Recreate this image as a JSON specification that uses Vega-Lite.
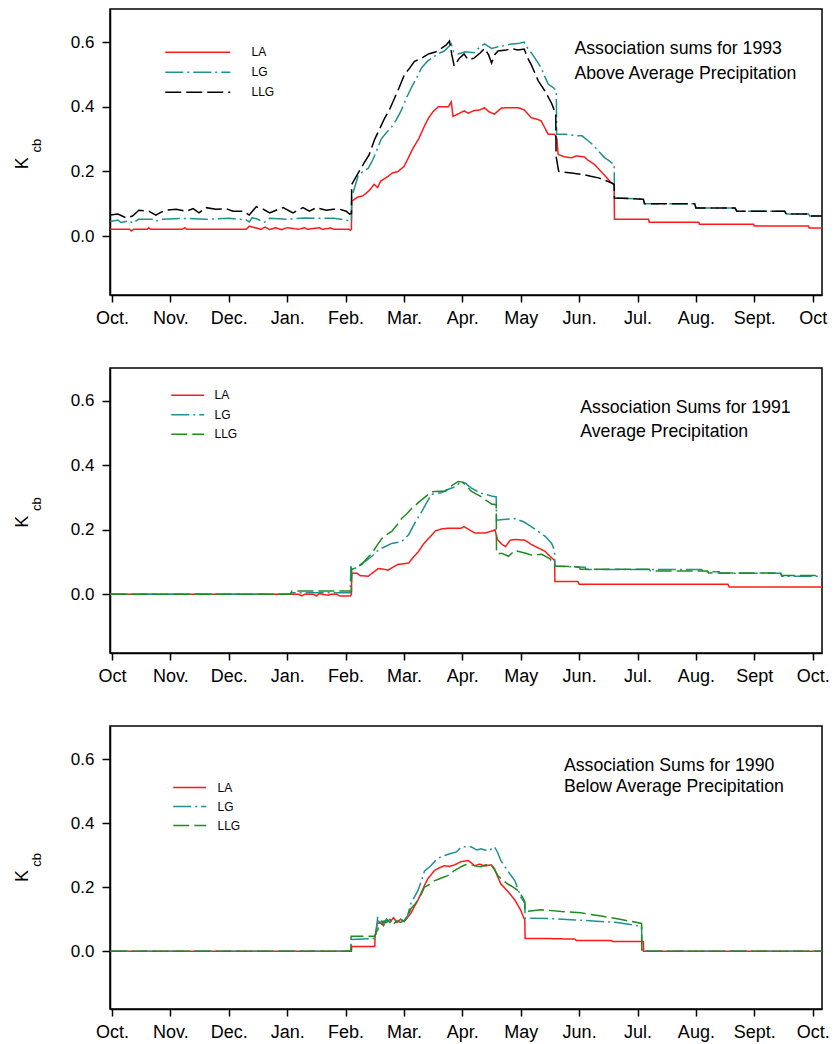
{
  "$schema": "https://vega.github.io/schema/vega-lite/v6.json",
  "padding": {"left": 13, "top": 8, "right": 4, "bottom": 4},
  "background": "white",
  "spacing": 39,
  "config": {
    "font": "Liberation Sans",
    "view": {"stroke": "#000000", "strokeWidth": 1.5},
    "axis": {"grid": false, "domainColor": "#000000", "domainWidth": 1.5, "tickColor": "#000000", "tickWidth": 1.5, "labelColor": "#000000", "labelFont": "Liberation Sans"},
    "legend": {"labelFont": "Liberation Sans"}
  },
  "resolve": {
    "scale": {"color": "independent", "strokeDash": "independent", "x": "independent", "y": "independent"},
    "legend": {"color": "independent", "strokeDash": "independent"}
  },
  "datasets": {
    "d93": [
      {"s":"LA","m":-0.03,"v":0.021},{"s":"LA","m":0.3,"v":0.021},{"s":"LA","m":0.33,"v":0.016},{"s":"LA","m":0.37,"v":0.021},{"s":"LA","m":0.6,"v":0.021},{"s":"LA","m":0.63,"v":0.026},{"s":"LA","m":0.66,"v":0.021},{"s":"LA","m":1.2,"v":0.021},{"s":"LA","m":1.25,"v":0.026},{"s":"LA","m":1.28,"v":0.021},{"s":"LA","m":2.3,"v":0.021},{"s":"LA","m":2.35,"v":0.031},{"s":"LA","m":2.45,"v":0.026},{"s":"LA","m":2.55,"v":0.021},{"s":"LA","m":2.62,"v":0.028},{"s":"LA","m":2.7,"v":0.02},{"s":"LA","m":2.8,"v":0.026},{"s":"LA","m":2.9,"v":0.02},{"s":"LA","m":3.0,"v":0.026},{"s":"LA","m":3.2,"v":0.021},{"s":"LA","m":3.3,"v":0.026},{"s":"LA","m":3.35,"v":0.021},{"s":"LA","m":3.55,"v":0.026},{"s":"LA","m":3.6,"v":0.021},{"s":"LA","m":3.75,"v":0.025},{"s":"LA","m":3.8,"v":0.021},{"s":"LA","m":4.06,"v":0.021},{"s":"LA","m":4.08,"v":0.018},{"s":"LA","m":4.1,"v":0.021},{"s":"LA","m":4.105,"v":0.108},{"s":"LA","m":4.2,"v":0.12},{"s":"LA","m":4.3,"v":0.125},{"s":"LA","m":4.4,"v":0.14},{"s":"LA","m":4.49,"v":0.16},{"s":"LA","m":4.55,"v":0.15},{"s":"LA","m":4.6,"v":0.17},{"s":"LA","m":4.73,"v":0.185},{"s":"LA","m":4.8,"v":0.195},{"s":"LA","m":4.9,"v":0.2},{"s":"LA","m":5.0,"v":0.215},{"s":"LA","m":5.07,"v":0.24},{"s":"LA","m":5.15,"v":0.27},{"s":"LA","m":5.25,"v":0.3},{"s":"LA","m":5.35,"v":0.34},{"s":"LA","m":5.42,"v":0.365},{"s":"LA","m":5.5,"v":0.385},{"s":"LA","m":5.59,"v":0.4},{"s":"LA","m":5.76,"v":0.4},{"s":"LA","m":5.81,"v":0.415},{"s":"LA","m":5.84,"v":0.37},{"s":"LA","m":5.9,"v":0.375},{"s":"LA","m":6.03,"v":0.387},{"s":"LA","m":6.1,"v":0.38},{"s":"LA","m":6.2,"v":0.388},{"s":"LA","m":6.3,"v":0.39},{"s":"LA","m":6.38,"v":0.397},{"s":"LA","m":6.45,"v":0.385},{"s":"LA","m":6.55,"v":0.377},{"s":"LA","m":6.67,"v":0.396},{"s":"LA","m":6.8,"v":0.397},{"s":"LA","m":6.96,"v":0.397},{"s":"LA","m":7.06,"v":0.39},{"s":"LA","m":7.18,"v":0.366},{"s":"LA","m":7.3,"v":0.36},{"s":"LA","m":7.35,"v":0.356},{"s":"LA","m":7.47,"v":0.315},{"s":"LA","m":7.58,"v":0.315},{"s":"LA","m":7.62,"v":0.3},{"s":"LA","m":7.64,"v":0.253},{"s":"LA","m":7.75,"v":0.245},{"s":"LA","m":7.87,"v":0.242},{"s":"LA","m":7.95,"v":0.248},{"s":"LA","m":8.09,"v":0.245},{"s":"LA","m":8.15,"v":0.235},{"s":"LA","m":8.26,"v":0.222},{"s":"LA","m":8.4,"v":0.195},{"s":"LA","m":8.55,"v":0.165},{"s":"LA","m":8.6,"v":0.16},{"s":"LA","m":8.605,"v":0.052},{"s":"LA","m":9.19,"v":0.052},{"s":"LA","m":9.2,"v":0.043},{"s":"LA","m":10.05,"v":0.043},{"s":"LA","m":10.06,"v":0.037},{"s":"LA","m":10.99,"v":0.037},{"s":"LA","m":11.0,"v":0.031},{"s":"LA","m":11.93,"v":0.031},{"s":"LA","m":11.94,"v":0.025},{"s":"LA","m":12.16,"v":0.025},
      {"s":"LG","m":-0.03,"v":0.045},{"s":"LG","m":0.1,"v":0.05},{"s":"LG","m":0.15,"v":0.042},{"s":"LG","m":0.3,"v":0.048},{"s":"LG","m":0.35,"v":0.04},{"s":"LG","m":0.45,"v":0.052},{"s":"LG","m":0.7,"v":0.052},{"s":"LG","m":0.75,"v":0.046},{"s":"LG","m":0.85,"v":0.052},{"s":"LG","m":1.3,"v":0.055},{"s":"LG","m":1.6,"v":0.052},{"s":"LG","m":2.0,"v":0.055},{"s":"LG","m":2.3,"v":0.05},{"s":"LG","m":2.35,"v":0.044},{"s":"LG","m":2.4,"v":0.057},{"s":"LG","m":2.5,"v":0.052},{"s":"LG","m":2.6,"v":0.042},{"s":"LG","m":2.7,"v":0.055},{"s":"LG","m":3.0,"v":0.052},{"s":"LG","m":3.3,"v":0.056},{"s":"LG","m":3.5,"v":0.055},{"s":"LG","m":3.8,"v":0.055},{"s":"LG","m":4.0,"v":0.05},{"s":"LG","m":4.08,"v":0.046},{"s":"LG","m":4.1,"v":0.046},{"s":"LG","m":4.105,"v":0.12},{"s":"LG","m":4.22,"v":0.19},{"s":"LG","m":4.3,"v":0.2},{"s":"LG","m":4.39,"v":0.21},{"s":"LG","m":4.45,"v":0.23},{"s":"LG","m":4.5,"v":0.25},{"s":"LG","m":4.61,"v":0.3},{"s":"LG","m":4.7,"v":0.32},{"s":"LG","m":4.78,"v":0.335},{"s":"LG","m":4.87,"v":0.36},{"s":"LG","m":4.95,"v":0.387},{"s":"LG","m":5.05,"v":0.43},{"s":"LG","m":5.13,"v":0.46},{"s":"LG","m":5.22,"v":0.49},{"s":"LG","m":5.3,"v":0.52},{"s":"LG","m":5.4,"v":0.54},{"s":"LG","m":5.47,"v":0.55},{"s":"LG","m":5.6,"v":0.565},{"s":"LG","m":5.69,"v":0.572},{"s":"LG","m":5.81,"v":0.594},{"s":"LG","m":5.85,"v":0.57},{"s":"LG","m":5.93,"v":0.563},{"s":"LG","m":6.05,"v":0.57},{"s":"LG","m":6.2,"v":0.567},{"s":"LG","m":6.3,"v":0.585},{"s":"LG","m":6.38,"v":0.594},{"s":"LG","m":6.5,"v":0.58},{"s":"LG","m":6.61,"v":0.585},{"s":"LG","m":6.75,"v":0.59},{"s":"LG","m":6.84,"v":0.594},{"s":"LG","m":6.95,"v":0.595},{"s":"LG","m":7.06,"v":0.6},{"s":"LG","m":7.12,"v":0.58},{"s":"LG","m":7.18,"v":0.567},{"s":"LG","m":7.28,"v":0.54},{"s":"LG","m":7.35,"v":0.52},{"s":"LG","m":7.42,"v":0.49},{"s":"LG","m":7.47,"v":0.47},{"s":"LG","m":7.55,"v":0.46},{"s":"LG","m":7.61,"v":0.45},{"s":"LG","m":7.615,"v":0.315},{"s":"LG","m":7.75,"v":0.315},{"s":"LG","m":7.98,"v":0.31},{"s":"LG","m":8.05,"v":0.31},{"s":"LG","m":8.16,"v":0.294},{"s":"LG","m":8.25,"v":0.28},{"s":"LG","m":8.33,"v":0.263},{"s":"LG","m":8.44,"v":0.242},{"s":"LG","m":8.5,"v":0.235},{"s":"LG","m":8.59,"v":0.222},{"s":"LG","m":8.6,"v":0.222},{"s":"LG","m":8.605,"v":0.118},{"s":"LG","m":9.1,"v":0.114},{"s":"LG","m":9.12,"v":0.1},{"s":"LG","m":9.98,"v":0.1},{"s":"LG","m":10.0,"v":0.087},{"s":"LG","m":10.67,"v":0.087},{"s":"LG","m":10.7,"v":0.077},{"s":"LG","m":11.52,"v":0.077},{"s":"LG","m":11.55,"v":0.068},{"s":"LG","m":11.93,"v":0.068},{"s":"LG","m":11.95,"v":0.062},{"s":"LG","m":12.16,"v":0.062},
      {"s":"LLG","m":-0.03,"v":0.065},{"s":"LLG","m":0.1,"v":0.068},{"s":"LLG","m":0.2,"v":0.06},{"s":"LLG","m":0.24,"v":0.056},{"s":"LLG","m":0.35,"v":0.062},{"s":"LLG","m":0.46,"v":0.08},{"s":"LLG","m":0.63,"v":0.077},{"s":"LLG","m":0.75,"v":0.065},{"s":"LLG","m":0.85,"v":0.075},{"s":"LLG","m":0.93,"v":0.08},{"s":"LLG","m":1.1,"v":0.083},{"s":"LLG","m":1.27,"v":0.077},{"s":"LLG","m":1.39,"v":0.085},{"s":"LLG","m":1.49,"v":0.072},{"s":"LLG","m":1.61,"v":0.088},{"s":"LLG","m":1.78,"v":0.083},{"s":"LLG","m":1.95,"v":0.085},{"s":"LLG","m":2.07,"v":0.077},{"s":"LLG","m":2.25,"v":0.077},{"s":"LLG","m":2.35,"v":0.065},{"s":"LLG","m":2.47,"v":0.091},{"s":"LLG","m":2.59,"v":0.083},{"s":"LLG","m":2.7,"v":0.072},{"s":"LLG","m":2.81,"v":0.08},{"s":"LLG","m":2.93,"v":0.088},{"s":"LLG","m":3.1,"v":0.072},{"s":"LLG","m":3.27,"v":0.088},{"s":"LLG","m":3.38,"v":0.077},{"s":"LLG","m":3.5,"v":0.088},{"s":"LLG","m":3.67,"v":0.08},{"s":"LLG","m":3.79,"v":0.083},{"s":"LLG","m":3.9,"v":0.083},{"s":"LLG","m":4.01,"v":0.077},{"s":"LLG","m":4.07,"v":0.068},{"s":"LLG","m":4.1,"v":0.07},{"s":"LLG","m":4.105,"v":0.16},{"s":"LLG","m":4.2,"v":0.19},{"s":"LLG","m":4.33,"v":0.23},{"s":"LLG","m":4.4,"v":0.25},{"s":"LLG","m":4.5,"v":0.3},{"s":"LLG","m":4.58,"v":0.33},{"s":"LLG","m":4.67,"v":0.365},{"s":"LLG","m":4.75,"v":0.39},{"s":"LLG","m":4.84,"v":0.427},{"s":"LLG","m":4.92,"v":0.46},{"s":"LLG","m":5.01,"v":0.5},{"s":"LLG","m":5.1,"v":0.52},{"s":"LLG","m":5.18,"v":0.54},{"s":"LLG","m":5.3,"v":0.55},{"s":"LLG","m":5.42,"v":0.563},{"s":"LLG","m":5.55,"v":0.57},{"s":"LLG","m":5.64,"v":0.58},{"s":"LLG","m":5.72,"v":0.59},{"s":"LLG","m":5.78,"v":0.603},{"s":"LLG","m":5.82,"v":0.56},{"s":"LLG","m":5.86,"v":0.526},{"s":"LLG","m":5.95,"v":0.55},{"s":"LLG","m":6.03,"v":0.563},{"s":"LLG","m":6.1,"v":0.545},{"s":"LLG","m":6.2,"v":0.55},{"s":"LLG","m":6.3,"v":0.565},{"s":"LLG","m":6.38,"v":0.58},{"s":"LLG","m":6.45,"v":0.56},{"s":"LLG","m":6.5,"v":0.535},{"s":"LLG","m":6.55,"v":0.56},{"s":"LLG","m":6.61,"v":0.572},{"s":"LLG","m":6.75,"v":0.575},{"s":"LLG","m":6.84,"v":0.58},{"s":"LLG","m":6.95,"v":0.575},{"s":"LLG","m":7.06,"v":0.578},{"s":"LLG","m":7.12,"v":0.55},{"s":"LLG","m":7.18,"v":0.53},{"s":"LLG","m":7.3,"v":0.48},{"s":"LLG","m":7.41,"v":0.45},{"s":"LLG","m":7.53,"v":0.41},{"s":"LLG","m":7.6,"v":0.377},{"s":"LLG","m":7.605,"v":0.247},{"s":"LLG","m":7.65,"v":0.2},{"s":"LLG","m":7.87,"v":0.195},{"s":"LLG","m":8.09,"v":0.19},{"s":"LLG","m":8.2,"v":0.185},{"s":"LLG","m":8.33,"v":0.18},{"s":"LLG","m":8.45,"v":0.172},{"s":"LLG","m":8.55,"v":0.165},{"s":"LLG","m":8.6,"v":0.16},{"s":"LLG","m":8.605,"v":0.118},{"s":"LLG","m":9.1,"v":0.114},{"s":"LLG","m":9.12,"v":0.1},{"s":"LLG","m":9.98,"v":0.1},{"s":"LLG","m":10.0,"v":0.087},{"s":"LLG","m":10.67,"v":0.087},{"s":"LLG","m":10.7,"v":0.077},{"s":"LLG","m":11.52,"v":0.077},{"s":"LLG","m":11.55,"v":0.068},{"s":"LLG","m":11.93,"v":0.068},{"s":"LLG","m":11.95,"v":0.062},{"s":"LLG","m":12.16,"v":0.062}
    ],
    "d91": [
      {"s":"LA","m":-0.03,"v":0},{"s":"LA","m":3.2,"v":0},{"s":"LA","m":3.25,"v":-0.005},{"s":"LA","m":3.3,"v":0},{"s":"LA","m":3.45,"v":0},{"s":"LA","m":3.5,"v":-0.005},{"s":"LA","m":3.55,"v":0.002},{"s":"LA","m":3.7,"v":-0.003},{"s":"LA","m":3.75,"v":0},{"s":"LA","m":3.85,"v":0},{"s":"LA","m":3.9,"v":-0.005},{"s":"LA","m":4.08,"v":-0.005},{"s":"LA","m":4.1,"v":0},{"s":"LA","m":4.105,"v":0.065},{"s":"LA","m":4.2,"v":0.065},{"s":"LA","m":4.25,"v":0.058},{"s":"LA","m":4.39,"v":0.056},{"s":"LA","m":4.45,"v":0.065},{"s":"LA","m":4.56,"v":0.08},{"s":"LA","m":4.65,"v":0.078},{"s":"LA","m":4.73,"v":0.075},{"s":"LA","m":4.82,"v":0.085},{"s":"LA","m":4.9,"v":0.093},{"s":"LA","m":5.0,"v":0.095},{"s":"LA","m":5.08,"v":0.097},{"s":"LA","m":5.16,"v":0.115},{"s":"LA","m":5.25,"v":0.133},{"s":"LA","m":5.33,"v":0.155},{"s":"LA","m":5.42,"v":0.173},{"s":"LA","m":5.54,"v":0.197},{"s":"LA","m":5.65,"v":0.203},{"s":"LA","m":5.76,"v":0.205},{"s":"LA","m":5.98,"v":0.205},{"s":"LA","m":6.03,"v":0.21},{"s":"LA","m":6.12,"v":0.2},{"s":"LA","m":6.22,"v":0.19},{"s":"LA","m":6.39,"v":0.19},{"s":"LA","m":6.5,"v":0.196},{"s":"LA","m":6.56,"v":0.2},{"s":"LA","m":6.6,"v":0.17},{"s":"LA","m":6.68,"v":0.155},{"s":"LA","m":6.74,"v":0.148},{"s":"LA","m":6.82,"v":0.168},{"s":"LA","m":6.9,"v":0.17},{"s":"LA","m":7.07,"v":0.168},{"s":"LA","m":7.18,"v":0.155},{"s":"LA","m":7.42,"v":0.133},{"s":"LA","m":7.5,"v":0.118},{"s":"LA","m":7.58,"v":0.105},{"s":"LA","m":7.585,"v":0.04},{"s":"LA","m":7.98,"v":0.04},{"s":"LA","m":8.0,"v":0.031},{"s":"LA","m":10.55,"v":0.031},{"s":"LA","m":10.57,"v":0.023},{"s":"LA","m":12.16,"v":0.023},
      {"s":"LG","m":-0.03,"v":0},{"s":"LG","m":3.05,"v":0},{"s":"LG","m":3.08,"v":0.005},{"s":"LG","m":4.08,"v":0.005},{"s":"LG","m":4.09,"v":0.087},{"s":"LG","m":4.11,"v":0.075},{"s":"LG","m":4.2,"v":0.085},{"s":"LG","m":4.28,"v":0.096},{"s":"LG","m":4.36,"v":0.105},{"s":"LG","m":4.45,"v":0.118},{"s":"LG","m":4.55,"v":0.135},{"s":"LG","m":4.62,"v":0.143},{"s":"LG","m":4.7,"v":0.15},{"s":"LG","m":4.79,"v":0.158},{"s":"LG","m":4.96,"v":0.163},{"s":"LG","m":5.08,"v":0.185},{"s":"LG","m":5.2,"v":0.226},{"s":"LG","m":5.3,"v":0.255},{"s":"LG","m":5.37,"v":0.278},{"s":"LG","m":5.47,"v":0.31},{"s":"LG","m":5.64,"v":0.315},{"s":"LG","m":5.75,"v":0.325},{"s":"LG","m":5.88,"v":0.334},{"s":"LG","m":5.98,"v":0.35},{"s":"LG","m":6.05,"v":0.345},{"s":"LG","m":6.15,"v":0.33},{"s":"LG","m":6.3,"v":0.315},{"s":"LG","m":6.39,"v":0.31},{"s":"LG","m":6.5,"v":0.305},{"s":"LG","m":6.58,"v":0.302},{"s":"LG","m":6.585,"v":0.23},{"s":"LG","m":6.7,"v":0.232},{"s":"LG","m":6.9,"v":0.235},{"s":"LG","m":7.05,"v":0.225},{"s":"LG","m":7.18,"v":0.21},{"s":"LG","m":7.3,"v":0.195},{"s":"LG","m":7.42,"v":0.18},{"s":"LG","m":7.53,"v":0.158},{"s":"LG","m":7.58,"v":0.135},{"s":"LG","m":7.585,"v":0.087},{"s":"LG","m":8.1,"v":0.084},{"s":"LG","m":8.12,"v":0.077},{"s":"LG","m":10.1,"v":0.077},{"s":"LG","m":10.12,"v":0.07},{"s":"LG","m":10.4,"v":0.07},{"s":"LG","m":10.42,"v":0.065},{"s":"LG","m":11.45,"v":0.065},{"s":"LG","m":11.47,"v":0.056},{"s":"LG","m":12.16,"v":0.056},
      {"s":"LLG","m":-0.03,"v":0},{"s":"LLG","m":3.05,"v":0},{"s":"LLG","m":3.08,"v":0.01},{"s":"LLG","m":4.1,"v":0.01},{"s":"LLG","m":4.105,"v":0.077},{"s":"LLG","m":4.2,"v":0.085},{"s":"LLG","m":4.28,"v":0.093},{"s":"LLG","m":4.36,"v":0.11},{"s":"LLG","m":4.45,"v":0.127},{"s":"LLG","m":4.55,"v":0.155},{"s":"LLG","m":4.62,"v":0.173},{"s":"LLG","m":4.7,"v":0.185},{"s":"LLG","m":4.79,"v":0.195},{"s":"LLG","m":4.88,"v":0.215},{"s":"LLG","m":4.96,"v":0.235},{"s":"LLG","m":5.05,"v":0.25},{"s":"LLG","m":5.13,"v":0.266},{"s":"LLG","m":5.25,"v":0.285},{"s":"LLG","m":5.37,"v":0.303},{"s":"LLG","m":5.47,"v":0.318},{"s":"LLG","m":5.6,"v":0.32},{"s":"LLG","m":5.71,"v":0.32},{"s":"LLG","m":5.8,"v":0.335},{"s":"LLG","m":5.93,"v":0.35},{"s":"LLG","m":6.0,"v":0.348},{"s":"LLG","m":6.08,"v":0.335},{"s":"LLG","m":6.15,"v":0.32},{"s":"LLG","m":6.25,"v":0.31},{"s":"LLG","m":6.32,"v":0.303},{"s":"LLG","m":6.42,"v":0.29},{"s":"LLG","m":6.5,"v":0.28},{"s":"LLG","m":6.58,"v":0.278},{"s":"LLG","m":6.585,"v":0.127},{"s":"LLG","m":6.68,"v":0.127},{"s":"LLG","m":6.79,"v":0.118},{"s":"LLG","m":6.9,"v":0.136},{"s":"LLG","m":7.07,"v":0.128},{"s":"LLG","m":7.18,"v":0.122},{"s":"LLG","m":7.36,"v":0.124},{"s":"LLG","m":7.5,"v":0.11},{"s":"LLG","m":7.58,"v":0.093},{"s":"LLG","m":7.585,"v":0.088},{"s":"LLG","m":8.0,"v":0.085},{"s":"LLG","m":8.02,"v":0.078},{"s":"LLG","m":9.2,"v":0.078},{"s":"LLG","m":9.22,"v":0.072},{"s":"LLG","m":10.2,"v":0.072},{"s":"LLG","m":10.22,"v":0.066},{"s":"LLG","m":11.45,"v":0.066},{"s":"LLG","m":11.47,"v":0.058},{"s":"LLG","m":12.16,"v":0.058}
    ],
    "d90": [
      {"s":"LA","m":-0.03,"v":0},{"s":"LA","m":4.1,"v":0},{"s":"LA","m":4.105,"v":0.015},{"s":"LA","m":4.5,"v":0.015},{"s":"LA","m":4.505,"v":0.047},{"s":"LA","m":4.54,"v":0.087},{"s":"LA","m":4.6,"v":0.09},{"s":"LA","m":4.65,"v":0.08},{"s":"LA","m":4.7,"v":0.1},{"s":"LA","m":4.76,"v":0.09},{"s":"LA","m":4.82,"v":0.105},{"s":"LA","m":4.88,"v":0.09},{"s":"LA","m":4.94,"v":0.1},{"s":"LA","m":5.0,"v":0.093},{"s":"LA","m":5.06,"v":0.105},{"s":"LA","m":5.12,"v":0.12},{"s":"LA","m":5.18,"v":0.14},{"s":"LA","m":5.24,"v":0.16},{"s":"LA","m":5.29,"v":0.18},{"s":"LA","m":5.35,"v":0.205},{"s":"LA","m":5.41,"v":0.227},{"s":"LA","m":5.47,"v":0.24},{"s":"LA","m":5.52,"v":0.252},{"s":"LA","m":5.6,"v":0.26},{"s":"LA","m":5.69,"v":0.267},{"s":"LA","m":5.78,"v":0.265},{"s":"LA","m":5.87,"v":0.27},{"s":"LA","m":5.98,"v":0.28},{"s":"LA","m":6.1,"v":0.283},{"s":"LA","m":6.16,"v":0.275},{"s":"LA","m":6.21,"v":0.267},{"s":"LA","m":6.3,"v":0.272},{"s":"LA","m":6.38,"v":0.266},{"s":"LA","m":6.49,"v":0.27},{"s":"LA","m":6.55,"v":0.258},{"s":"LA","m":6.6,"v":0.235},{"s":"LA","m":6.66,"v":0.21},{"s":"LA","m":6.78,"v":0.187},{"s":"LA","m":6.9,"v":0.16},{"s":"LA","m":7.0,"v":0.128},{"s":"LA","m":7.07,"v":0.097},{"s":"LA","m":7.075,"v":0.04},{"s":"LA","m":7.42,"v":0.04},{"s":"LA","m":7.93,"v":0.038},{"s":"LA","m":7.95,"v":0.034},{"s":"LA","m":8.55,"v":0.034},{"s":"LA","m":8.57,"v":0.031},{"s":"LA","m":9.1,"v":0.031},{"s":"LA","m":9.105,"v":0},{"s":"LA","m":12.16,"v":0},
      {"s":"LG","m":-0.03,"v":0},{"s":"LG","m":4.09,"v":0},{"s":"LG","m":4.095,"v":0.037},{"s":"LG","m":4.5,"v":0.04},{"s":"LG","m":4.52,"v":0.05},{"s":"LG","m":4.55,"v":0.108},{"s":"LG","m":4.58,"v":0.085},{"s":"LG","m":4.62,"v":0.095},{"s":"LG","m":4.66,"v":0.085},{"s":"LG","m":4.7,"v":0.1},{"s":"LG","m":4.76,"v":0.09},{"s":"LG","m":4.82,"v":0.1},{"s":"LG","m":4.88,"v":0.095},{"s":"LG","m":4.94,"v":0.1},{"s":"LG","m":5.0,"v":0.095},{"s":"LG","m":5.06,"v":0.11},{"s":"LG","m":5.12,"v":0.15},{"s":"LG","m":5.18,"v":0.17},{"s":"LG","m":5.24,"v":0.19},{"s":"LG","m":5.3,"v":0.22},{"s":"LG","m":5.35,"v":0.25},{"s":"LG","m":5.46,"v":0.267},{"s":"LG","m":5.55,"v":0.285},{"s":"LG","m":5.63,"v":0.295},{"s":"LG","m":5.8,"v":0.305},{"s":"LG","m":5.9,"v":0.31},{"s":"LG","m":5.98,"v":0.326},{"s":"LG","m":6.15,"v":0.326},{"s":"LG","m":6.25,"v":0.316},{"s":"LG","m":6.32,"v":0.32},{"s":"LG","m":6.44,"v":0.313},{"s":"LG","m":6.55,"v":0.326},{"s":"LG","m":6.6,"v":0.31},{"s":"LG","m":6.66,"v":0.283},{"s":"LG","m":6.78,"v":0.25},{"s":"LG","m":6.9,"v":0.22},{"s":"LG","m":7.0,"v":0.17},{"s":"LG","m":7.07,"v":0.15},{"s":"LG","m":7.075,"v":0.103},{"s":"LG","m":7.5,"v":0.102},{"s":"LG","m":7.93,"v":0.098},{"s":"LG","m":8.3,"v":0.094},{"s":"LG","m":8.65,"v":0.09},{"s":"LG","m":9.07,"v":0.078},{"s":"LG","m":9.075,"v":0},{"s":"LG","m":12.16,"v":0},
      {"s":"LLG","m":-0.03,"v":0},{"s":"LLG","m":4.09,"v":0},{"s":"LLG","m":4.095,"v":0.047},{"s":"LLG","m":4.5,"v":0.047},{"s":"LLG","m":4.52,"v":0.06},{"s":"LLG","m":4.55,"v":0.066},{"s":"LLG","m":4.58,"v":0.09},{"s":"LLG","m":4.62,"v":0.085},{"s":"LLG","m":4.66,"v":0.095},{"s":"LLG","m":4.7,"v":0.09},{"s":"LLG","m":4.76,"v":0.1},{"s":"LLG","m":4.82,"v":0.085},{"s":"LLG","m":4.88,"v":0.095},{"s":"LLG","m":4.94,"v":0.09},{"s":"LLG","m":5.0,"v":0.095},{"s":"LLG","m":5.06,"v":0.105},{"s":"LLG","m":5.12,"v":0.134},{"s":"LLG","m":5.18,"v":0.145},{"s":"LLG","m":5.24,"v":0.16},{"s":"LLG","m":5.3,"v":0.18},{"s":"LLG","m":5.35,"v":0.2},{"s":"LLG","m":5.45,"v":0.21},{"s":"LLG","m":5.52,"v":0.22},{"s":"LLG","m":5.63,"v":0.228},{"s":"LLG","m":5.75,"v":0.236},{"s":"LLG","m":5.85,"v":0.25},{"s":"LLG","m":5.98,"v":0.264},{"s":"LLG","m":6.05,"v":0.27},{"s":"LLG","m":6.15,"v":0.27},{"s":"LLG","m":6.25,"v":0.265},{"s":"LLG","m":6.32,"v":0.264},{"s":"LLG","m":6.4,"v":0.27},{"s":"LLG","m":6.49,"v":0.27},{"s":"LLG","m":6.55,"v":0.255},{"s":"LLG","m":6.61,"v":0.236},{"s":"LLG","m":6.7,"v":0.22},{"s":"LLG","m":6.78,"v":0.21},{"s":"LLG","m":6.87,"v":0.2},{"s":"LLG","m":6.95,"v":0.19},{"s":"LLG","m":7.03,"v":0.17},{"s":"LLG","m":7.07,"v":0.155},{"s":"LLG","m":7.075,"v":0.124},{"s":"LLG","m":7.35,"v":0.13},{"s":"LLG","m":7.7,"v":0.124},{"s":"LLG","m":8.03,"v":0.12},{"s":"LLG","m":8.38,"v":0.11},{"s":"LLG","m":8.7,"v":0.1},{"s":"LLG","m":9.07,"v":0.087},{"s":"LLG","m":9.075,"v":0},{"s":"LLG","m":12.16,"v":0}
    ]
  },
  "vconcat": [
    {
      "width": 712, "height": 286,
      "layer": [
        {
          "data": {"name": "d93"},
          "mark": {"type": "line", "strokeWidth": 1.5},
          "encoding": {
            "x": {"field": "m", "type": "quantitative", "scale": {"domain": [-0.035, 12.16], "nice": false, "zero": false},
                  "axis": {"title": null, "values": [0,1,2,3,4,5,6,7,8,9,10,11,12], "labelExpr": "['Oct.','Nov.','Dec.','Jan.','Feb.','Mar.','Apr.','May','Jun.','Jul.','Aug.','Sept.','Oct'][round(datum.value)]", "tickSize": 7, "labelPadding": 7, "labelFontSize": 18, "labelOverlap": false, "labelFlush": false}},
            "y": {"field": "v", "type": "quantitative", "scale": {"domain": [-0.182, 0.702], "nice": false, "zero": false},
                  "axis": {"title": null, "values": [0, 0.2, 0.4, 0.6], "format": ".1f", "tickSize": 8, "labelPadding": 8, "labelFontSize": 17}},
            "color": {"field": "s", "type": "nominal", "scale": {"domain": ["LA", "LG", "LLG"], "range": ["#ff1a1a", "#1f9191", "#000000"]},
                      "legend": {"title": null, "orient": "none", "legendX": 73.75, "legendY": 29.25, "padding": 0, "symbolType": "M-2.5,0H2.5", "symbolSize": 676, "symbolStrokeWidth": 1.5, "symbolFillColor": "transparent", "labelFontSize": 12, "labelOffset": 39.75, "rowPadding": 0, "labelColor": "#000000"}},
            "strokeDash": {"field": "s", "type": "nominal", "scale": {"domain": ["LA", "LG", "LLG"], "range": [[1, 0], [18, 4, 2, 4], [16, 5]]},
                      "legend": {"title": null, "orient": "none", "legendX": 73.75, "legendY": 29.25, "padding": 0, "symbolType": "M-2.5,0H2.5", "symbolSize": 676, "symbolStrokeWidth": 1.5, "symbolFillColor": "transparent", "labelFontSize": 12, "labelOffset": 39.75, "rowPadding": 0, "labelColor": "#000000"}}
          }
        },
        {
          "data": {"values": [{}]},
          "mark": {"type": "text", "fontSize": 18, "angle": 270, "align": "center", "baseline": "middle", "color": "#000000"},
          "encoding": {"x": {"datum": -1.52}, "y": {"datum": 0.225}, "text": {"value": "K"}}
        },
        {
          "data": {"values": [{}]},
          "mark": {"type": "text", "fontSize": 13, "angle": 270, "align": "center", "baseline": "middle", "color": "#000000"},
          "encoding": {"x": {"datum": -1.29}, "y": {"datum": 0.28}, "text": {"value": "cb"}}
        },
        {
          "data": {"values": [{}]},
          "mark": {"type": "text", "fontSize": 17.7, "align": "left", "baseline": "alphabetic", "lineHeight": 25, "color": "#000000"},
          "encoding": {"x": {"datum": 7.92}, "y": {"datum": 0.563}, "text": {"value": ["Association sums for 1993", "Above Average Precipitation"]}}
        }
      ]
    },
    {
      "width": 712, "height": 285,
      "layer": [
        {
          "data": {"name": "d91"},
          "mark": {"type": "line", "strokeWidth": 1.5},
          "encoding": {
            "x": {"field": "m", "type": "quantitative", "scale": {"domain": [-0.035, 12.16], "nice": false, "zero": false},
                  "axis": {"title": null, "values": [0,1,2,3,4,5,6,7,8,9,10,11,12], "labelExpr": "['Oct','Nov.','Dec.','Jan.','Feb.','Mar.','Apr.','May','Jun.','Jul.','Aug.','Sept','Oct.'][round(datum.value)]", "tickSize": 7, "labelPadding": 7, "labelFontSize": 18, "labelOverlap": false, "labelFlush": false}},
            "y": {"field": "v", "type": "quantitative", "scale": {"domain": [-0.182, 0.702], "nice": false, "zero": false},
                  "axis": {"title": null, "values": [0, 0.2, 0.4, 0.6], "format": ".1f", "tickSize": 8, "labelPadding": 8, "labelFontSize": 17}},
            "color": {"field": "s", "type": "nominal", "scale": {"domain": ["LA", "LG", "LLG"], "range": ["#ff1a1a", "#1f9191", "#1e8c1e"]},
                      "legend": {"title": null, "orient": "none", "legendX": 65.75, "legendY": 15.25, "padding": 0, "symbolType": "M-1.5,0H1.5", "symbolSize": 484, "symbolStrokeWidth": 1.5, "symbolFillColor": "transparent", "labelFontSize": 12, "labelOffset": 14.75, "rowPadding": 1.5, "labelColor": "#000000"}},
            "strokeDash": {"field": "s", "type": "nominal", "scale": {"domain": ["LA", "LG", "LLG"], "range": [[1, 0], [18, 4, 2, 4], [16, 5]]},
                      "legend": {"title": null, "orient": "none", "legendX": 65.75, "legendY": 15.25, "padding": 0, "symbolType": "M-1.5,0H1.5", "symbolSize": 484, "symbolStrokeWidth": 1.5, "symbolFillColor": "transparent", "labelFontSize": 12, "labelOffset": 14.75, "rowPadding": 1.5, "labelColor": "#000000"}}
          }
        },
        {
          "data": {"values": [{}]},
          "mark": {"type": "text", "fontSize": 18, "angle": 270, "align": "center", "baseline": "middle", "color": "#000000"},
          "encoding": {"x": {"datum": -1.52}, "y": {"datum": 0.225}, "text": {"value": "K"}}
        },
        {
          "data": {"values": [{}]},
          "mark": {"type": "text", "fontSize": 13, "angle": 270, "align": "center", "baseline": "middle", "color": "#000000"},
          "encoding": {"x": {"datum": -1.29}, "y": {"datum": 0.28}, "text": {"value": "cb"}}
        },
        {
          "data": {"values": [{}]},
          "mark": {"type": "text", "fontSize": 17.7, "align": "left", "baseline": "alphabetic", "lineHeight": 24, "color": "#000000"},
          "encoding": {"x": {"datum": 8.02}, "y": {"datum": 0.563}, "text": {"value": ["Association Sums for 1991", "Average Precipitation"]}}
        }
      ]
    },
    {
      "width": 712, "height": 283,
      "layer": [
        {
          "data": {"name": "d90"},
          "mark": {"type": "line", "strokeWidth": 1.5},
          "encoding": {
            "x": {"field": "m", "type": "quantitative", "scale": {"domain": [-0.035, 12.16], "nice": false, "zero": false},
                  "axis": {"title": null, "values": [0,1,2,3,4,5,6,7,8,9,10,11,12], "labelExpr": "['Oct.','Nov.','Dec.','Jan.','Feb.','Mar.','Apr.','May','Jun.','Jul.','Aug.','Sept.','Oct.'][round(datum.value)]", "tickSize": 7, "labelPadding": 7, "labelFontSize": 18, "labelOverlap": false, "labelFlush": false}},
            "y": {"field": "v", "type": "quantitative", "scale": {"domain": [-0.18, 0.703], "nice": false, "zero": false},
                  "axis": {"title": null, "values": [0, 0.2, 0.4, 0.6], "format": ".1f", "tickSize": 8, "labelPadding": 8, "labelFontSize": 17}},
            "color": {"field": "s", "type": "nominal", "scale": {"domain": ["LA", "LG", "LLG"], "range": ["#ff1a1a", "#1f9191", "#1e8c1e"]},
                      "legend": {"title": null, "orient": "none", "legendX": 67.75, "legendY": 49.5, "padding": 0, "symbolType": "M-1.5,0H1.5", "symbolSize": 484, "symbolStrokeWidth": 1.5, "symbolFillColor": "transparent", "labelFontSize": 12, "labelOffset": 15.75, "rowPadding": 1, "labelColor": "#000000"}},
            "strokeDash": {"field": "s", "type": "nominal", "scale": {"domain": ["LA", "LG", "LLG"], "range": [[1, 0], [18, 4, 2, 4], [16, 5]]},
                      "legend": {"title": null, "orient": "none", "legendX": 67.75, "legendY": 49.5, "padding": 0, "symbolType": "M-1.5,0H1.5", "symbolSize": 484, "symbolStrokeWidth": 1.5, "symbolFillColor": "transparent", "labelFontSize": 12, "labelOffset": 15.75, "rowPadding": 1, "labelColor": "#000000"}}
          }
        },
        {
          "data": {"values": [{}]},
          "mark": {"type": "text", "fontSize": 18, "angle": 270, "align": "center", "baseline": "middle", "color": "#000000"},
          "encoding": {"x": {"datum": -1.52}, "y": {"datum": 0.235}, "text": {"value": "K"}}
        },
        {
          "data": {"values": [{}]},
          "mark": {"type": "text", "fontSize": 13, "angle": 270, "align": "center", "baseline": "middle", "color": "#000000"},
          "encoding": {"x": {"datum": -1.29}, "y": {"datum": 0.285}, "text": {"value": "cb"}}
        },
        {
          "data": {"values": [{}]},
          "mark": {"type": "text", "fontSize": 17.7, "align": "left", "baseline": "alphabetic", "lineHeight": 21, "color": "#000000"},
          "encoding": {"x": {"datum": 7.74}, "y": {"datum": 0.563}, "text": {"value": ["Association Sums for 1990", "Below Average Precipitation"]}}
        }
      ]
    }
  ]
}
